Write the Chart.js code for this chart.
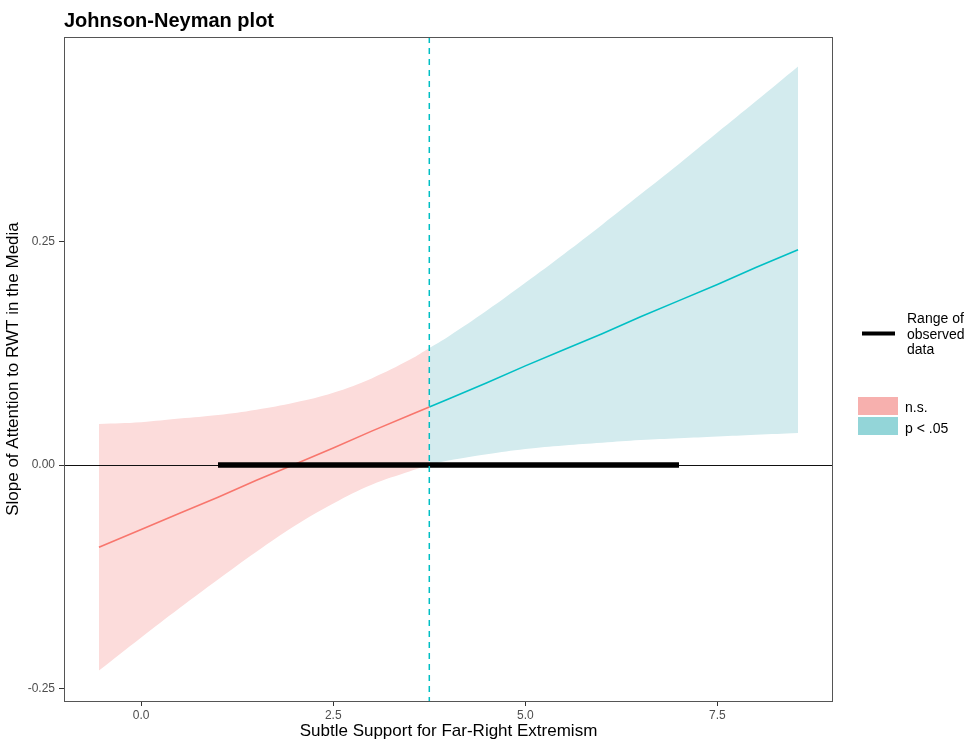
<!DOCTYPE html>
<html>
<head>
<meta charset="utf-8">
<script src="https://cdn.jsdelivr.net/npm/chart.js@4/dist/chart.umd.min.js"></script>
<style>
  html, body { margin: 0; padding: 0; background: #fff; }
  canvas { display: block; }
</style>
</head>
<body>
<canvas id="jnChart" width="973" height="744"></canvas>
<script>
// values
const nsX = [-0.55, 0, 0.5, 1, 1.5, 2, 2.5, 3, 3.5, 3.75];
const nsSlope = [-0.092, -0.072, -0.054, -0.036, -0.017, 0.001, 0.019, 0.038, 0.056, 0.065];
const nsUpper = [0.046, 0.048, 0.052, 0.056, 0.062, 0.070, 0.081, 0.097, 0.118, 0.131];
const nsLower = [-0.230, -0.193, -0.160, -0.128, -0.097, -0.068, -0.043, -0.022, -0.007, 0.000];

const sigX = [3.75, 4, 4.5, 5, 5.5, 6, 6.5, 7, 7.5, 8, 8.55];
const sigSlope = [0.065, 0.074, 0.092, 0.111, 0.129, 0.147, 0.166, 0.184, 0.202, 0.221, 0.241];
const sigUpper = [0.131, 0.144, 0.173, 0.204, 0.236, 0.269, 0.303, 0.337, 0.372, 0.407, 0.446];
const sigLower = [0.000, 0.005, 0.012, 0.018, 0.022, 0.025, 0.028, 0.030, 0.032, 0.034, 0.036];

const observedX = [1.0, 7.0];
const observedY = [0, 0];
const jnPoint = 3.75;

const xTickValues = [0, 2.5, 5, 7.5];
const yTickValues = [-0.25, 0, 0.25];

const FONT = '"Liberation Sans", Arial, sans-serif';
const RED = '#F8766D';
const TEAL = '#00BFC4';

const pts = (xs, ys) => xs.map((x, i) => ({ x: x, y: ys[i] }));

const band = (xs, ys, color, fill) => ({
    data: pts(xs, ys),
    borderColor: 'transparent',
    borderWidth: 0,
    backgroundColor: color,
    pointRadius: 0,
    fill: fill,
    tension: 0.4
});

// reference lines, panel border, title and legend
const extras = {
    id: 'jnExtras',
    afterDatasetsDraw(chart) {
        const { ctx, chartArea: a, scales } = chart;
        ctx.save();
        // zero line
        const y0 = Math.round(scales.y.getPixelForValue(0)) + 0.5;
        ctx.strokeStyle = '#111';
        ctx.lineWidth = 1.2;
        ctx.beginPath();
        ctx.moveTo(a.left, y0);
        ctx.lineTo(a.right, y0);
        ctx.stroke();
        // observed range drawn again so it sits over the zero line
        const meta = chart.getDatasetMeta(0);
        ctx.strokeStyle = '#000';
        ctx.lineWidth = 5;
        ctx.beginPath();
        ctx.moveTo(meta.data[0].x, meta.data[0].y);
        ctx.lineTo(meta.data[1].x, meta.data[1].y);
        ctx.stroke();
        // Johnson-Neyman boundary
        const xv = scales.x.getPixelForValue(jnPoint);
        ctx.strokeStyle = TEAL;
        ctx.lineWidth = 1.5;
        ctx.setLineDash([6, 5]);
        ctx.beginPath();
        ctx.moveTo(xv, a.top);
        ctx.lineTo(xv, a.bottom);
        ctx.stroke();
        ctx.setLineDash([]);
        // panel border
        ctx.strokeStyle = '#555';
        ctx.lineWidth = 1;
        ctx.strokeRect(a.left + 0.5, a.top + 0.5, a.right - a.left - 1, a.bottom - a.top);
        ctx.restore();
    },
    afterDraw(chart) {
        const ctx = chart.ctx;
        ctx.save();
        ctx.fillStyle = '#000';
        ctx.textBaseline = 'alphabetic';
        ctx.textAlign = 'left';
        ctx.font = 'bold 20px ' + FONT;
        ctx.fillText('Johnson-Neyman plot', 64, 27);

        // legend: observed range
        ctx.strokeStyle = '#000';
        ctx.lineWidth = 4;
        ctx.beginPath();
        ctx.moveTo(862, 333.5);
        ctx.lineTo(895, 333.5);
        ctx.stroke();
        ctx.font = '14px ' + FONT;
        ctx.fillText('Range of', 907, 323);
        ctx.fillText('observed', 907, 338.5);
        ctx.fillText('data', 907, 354);

        // legend: significance
        ctx.fillStyle = '#f7b0ae';
        ctx.fillRect(858, 397, 40, 18);
        ctx.fillStyle = '#93d5d8';
        ctx.fillRect(858, 417, 40, 18);
        ctx.fillStyle = '#000';
        ctx.fillText('n.s.', 905, 412);
        ctx.fillText('p < .05', 905, 432.5);
        ctx.restore();
    }
};

const axisStyle = (ticks, digits) => ({
    type: 'linear',
    afterBuildTicks: scale => { scale.ticks = ticks.map(v => ({ value: v })); },
    ticks: {
        callback: v => Number(v).toFixed(digits),
        font: { family: FONT, size: 12 },
        color: '#4d4d4d',
        maxRotation: 0,
        autoSkip: false
    },
    grid: {
        drawOnChartArea: false,
        drawTicks: true,
        tickLength: 5,
        color: '#333'
    },
    border: { display: false }
});

const xAxis = axisStyle(xTickValues, 1);
xAxis.min = -1.005;
xAxis.max = 9.005;
xAxis.ticks.padding = 2;
xAxis.title = {
    display: true,
    text: 'Subtle Support for Far-Right Extremism',
    font: { family: FONT, size: 17 },
    color: '#000',
    padding: { top: 0, bottom: 2 }
};
xAxis.afterFit = scale => { scale.height = 43; };

const yAxis = axisStyle(yTickValues, 2);
yAxis.min = -0.264;
yAxis.max = 0.479;
yAxis.ticks.padding = 4;
yAxis.title = {
    display: true,
    text: 'Slope of Attention to RWT in the Media',
    font: { family: FONT, size: 17 },
    color: '#000',
    padding: { top: 3, bottom: 0 }
};
yAxis.afterFit = scale => { scale.width = 64; };

new Chart(document.getElementById('jnChart'), {
    type: 'line',
    data: {
        datasets: [
            {
                data: pts(observedX, observedY),
                borderColor: '#000',
                borderWidth: 5,
                borderCapStyle: 'butt',
                pointRadius: 0,
                fill: false
            },
            { data: pts(nsX, nsSlope), borderColor: RED, borderWidth: 1.6, pointRadius: 0, fill: false },
            { data: pts(sigX, sigSlope), borderColor: TEAL, borderWidth: 1.6, pointRadius: 0, fill: false },
            band(sigX, sigUpper, '#d3ebee', '+1'),
            band(sigX, sigLower, 'transparent', false),
            band(nsX, nsUpper, '#fcdcdb', '+1'),
            band(nsX, nsLower, 'transparent', false)
        ]
    },
    options: {
        responsive: false,
        animation: false,
        devicePixelRatio: 1,
        layout: { padding: { left: 0, right: 140, top: 37, bottom: 0 } },
        plugins: {
            legend: { display: false },
            title: { display: false },
            tooltip: { enabled: false }
        },
        scales: { x: xAxis, y: yAxis }
    },
    plugins: [extras]
});
</script>
</body>
</html>
